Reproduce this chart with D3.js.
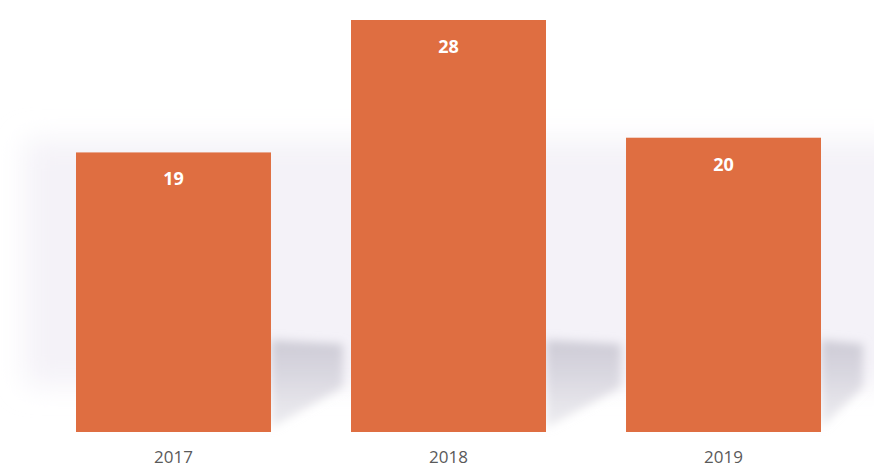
<!DOCTYPE html>
<html>
<head>
<meta charset="utf-8">
<script src="https://cdn.jsdelivr.net/npm/d3@7"></script>
<style>
  html, body { margin: 0; padding: 0; background: #ffffff; }
  svg { display: block; }
</style>
</head>
<body>
<svg id="chart" width="874" height="467"></svg>
<script>
// Yearly counts
const years = ["2017", "2018", "2019"];
const counts = [19, 28, 20];

const W = 874, H = 467;
const barColor = "#df6e41";

const svg = d3.select("#chart");
const defs = svg.append("defs");

defs.append("filter").attr("id", "haze")
  .attr("x", "-20%").attr("y", "-20%").attr("width", "140%").attr("height", "140%")
  .append("feGaussianBlur").attr("stdDeviation", 14);

defs.append("filter").attr("id", "softShadow")
  .attr("x", "-50%").attr("y", "-50%").attr("width", "200%").attr("height", "200%")
  .append("feGaussianBlur").attr("stdDeviation", 5);

const shadowGrad = defs.append("linearGradient").attr("id", "shadowFade")
  .attr("x1", 0).attr("y1", 0).attr("x2", 0).attr("y2", 1);
shadowGrad.append("stop").attr("offset", "0%").attr("stop-color", "#c9c7d2").attr("stop-opacity", 0.9);
shadowGrad.append("stop").attr("offset", "100%").attr("stop-color", "#d6d4dd").attr("stop-opacity", 0.45);

const x = d3.scaleBand().domain(years).range([76, 821]).paddingInner(0.291).paddingOuter(0);
const y = d3.scaleLinear().domain([0, 28]).range([432, 20]);

// Soft lavender backdrop behind the bars
svg.append("rect")
  .attr("x", 25).attr("y", 140).attr("width", 880).attr("height", 245)
  .attr("fill", "#f4f2f8")
  .attr("filter", "url(#haze)");

const data = years.map((yr, i) => ({ year: yr, value: counts[i] }));

// Cast shadows falling to the right of each bar
const shadowLen = [72, 75, 42];
svg.append("g").selectAll("path")
  .data(data)
  .join("path")
  .attr("d", (d, i) => {
    const r = x(d.year) + x.bandwidth();
    const b = y(0);
    const top = b - 92;
    const len = shadowLen[i];
    return `M${r},${top} L${r + len},${top + 4} L${r + len},${b - 45} L${r},${b - 4} Z`;
  })
  .attr("fill", "url(#shadowFade)")
  .attr("filter", "url(#softShadow)");

// Bars
svg.append("g").selectAll("rect")
  .data(data)
  .join("rect")
  .attr("x", d => x(d.year))
  .attr("y", d => y(d.value))
  .attr("width", x.bandwidth())
  .attr("height", d => y(0) - y(d.value))
  .attr("fill", barColor);

// Value labels inside the top of each bar
svg.append("g").selectAll("text")
  .data(data)
  .join("text")
  .attr("x", d => x(d.year) + x.bandwidth() / 2)
  .attr("y", d => y(d.value) + 33)
  .attr("text-anchor", "middle")
  .attr("font-family", "'Open Sans', Lato, sans-serif")
  .attr("font-weight", "bold")
  .attr("font-size", 18)
  .attr("fill", "#ffffff")
  .text(d => d.value);

// Category axis labels
const xAxis = d3.axisBottom(x).tickSize(0).tickPadding(19);
const gx = svg.append("g")
  .attr("transform", `translate(0,${y(0)})`)
  .call(xAxis);
gx.select(".domain").remove();
gx.selectAll("text")
  .attr("font-family", "'Open Sans', Lato, sans-serif")
  .attr("font-size", 17)
  .attr("fill", "#5a5a5a");
</script>
</body>
</html>
